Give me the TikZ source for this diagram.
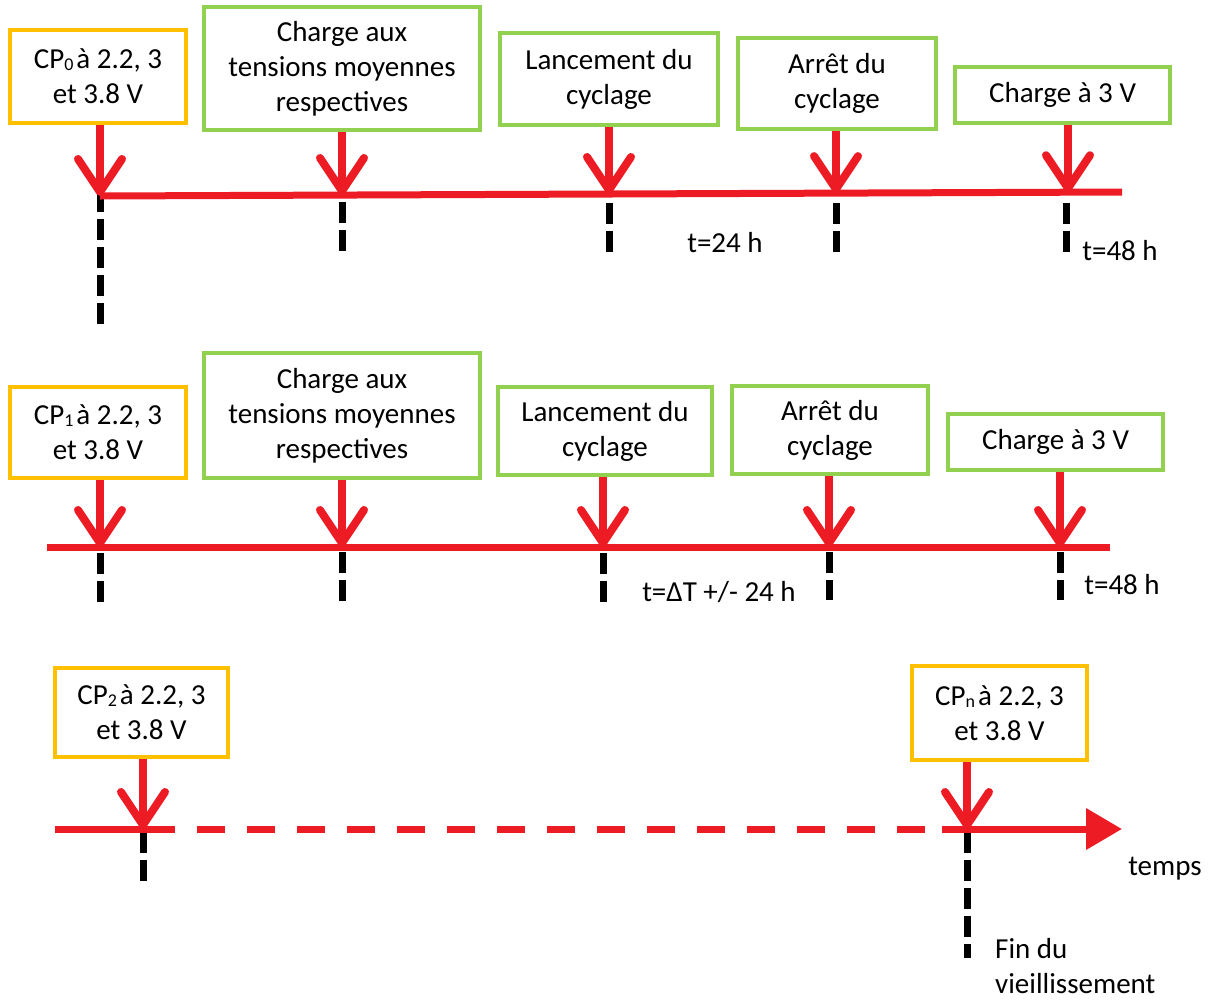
\documentclass[tikz,border=0pt]{standalone}
\usepackage{fontspec}
\setmainfont{Carlito}
\usetikzlibrary{arrows.meta}
\definecolor{cpred}{HTML}{ED1C24}
\definecolor{cporange}{HTML}{FFC000}
\definecolor{cpgreen}{HTML}{92D050}
\newcommand\cpsub[1]{\raisebox{-0.15ex}{\fontsize{18}{18}\selectfont #1}\kern3pt}
\begin{document}
\begin{tikzpicture}[x=1pt,y=-1pt,
  txt/.style={font=\fontsize{29}{35}\selectfont, inner sep=0pt, text=black},
  box/.style={txt, line width=4.5pt, align=center, fill=white},
  obox/.style={box, draw=cporange},
  gbox/.style={box, draw=cpgreen},
  tl/.style={draw=cpred, line width=7pt},
  drop/.style={draw=cpred, line width=8pt, -{Straight Barb[length=33pt,width=44pt,round]}},
  tick/.style={draw=black, line width=7pt, dash pattern=on 21pt off 7pt}]
\useasboundingbox (0,0) rectangle (1214,1002);

% ---------- Row 1 ----------
\node[obox, minimum width=176pt, minimum height=93pt] (a0) at (98,76.5) {CP\cpsub{0}à 2.2, 3\\et 3.8 V};
\node[gbox, minimum width=276pt, minimum height=123pt] (a1) at (342,68.5) {Charge aux\\tensions moyennes\\respectives};
\node[gbox, minimum width=218pt, minimum height=92pt] (a2) at (609,79) {Lancement du\\cyclage};
\node[gbox, minimum width=198pt, minimum height=91pt] (a3) at (837,83.5) {Arrêt du\\cyclage};
\node[gbox, minimum width=215pt, minimum height=56pt] (a4) at (1062.5,95) {Charge à 3 V};

\coordinate (p10) at (100,196);
\coordinate (p11) at (342,195);
\coordinate (p12) at (609,194);
\coordinate (p13) at (836,193.1);
\coordinate (p14) at (1068,192.2);
\coordinate (e1) at (1122,192);

\draw[tick] (100,191) -- (100,325);
\draw[tick] (342,202) -- (342,255);
\draw[tick] (609,203) -- (609,252);
\draw[tick] (836,203) -- (836,252);
\draw[tick] (1066,203) -- (1066,252);

\draw[tl] (p10) -- (e1);
\draw[drop] (a0.south -| p10) -- (p10);
\draw[drop] (a1.south -| p11) -- (p11);
\draw[drop] (a2.south -| p12) -- (p12);
\draw[drop] (a3.south -| p13) -- (p13);
\draw[drop] (a4.south -| p14) -- (p14);

\node[txt] (l1) at (725,243) {t=24 h};
\node[txt] (l2) at (1120,251) {t=48 h};

% ---------- Row 2 ----------
\node[obox, minimum width=176pt, minimum height=91pt] (b0) at (98,432.5) {CP\cpsub{1}à 2.2, 3\\et 3.8 V};
\node[gbox, minimum width=276pt, minimum height=125pt] (b1) at (342,415.5) {Charge aux\\tensions moyennes\\respectives};
\node[gbox, minimum width=214pt, minimum height=88pt] (b2) at (605,431) {Lancement du\\cyclage};
\node[gbox, minimum width=196pt, minimum height=88pt] (b3) at (830,430) {Arrêt du\\cyclage};
\node[gbox, minimum width=215pt, minimum height=56pt] (b4) at (1055.5,442) {Charge à 3 V};

\coordinate (s2) at (47,547);
\coordinate (p20) at (100,547);
\coordinate (p21) at (342,547);
\coordinate (p22) at (603,547);
\coordinate (p23) at (829,547);
\coordinate (p24) at (1060,547);
\coordinate (e2) at (1110,547);

\draw[tick] (100,553) -- (100,603);
\draw[tick] (342,552) -- (342,603);
\draw[tick] (603,553) -- (603,606);
\draw[tick] (829,552) -- (829,600);
\draw[tick] (1060,552) -- (1060,600);

\draw[tl] (s2) -- (e2);
\draw[drop] (b0.south -| p20) -- (p20);
\draw[drop] (b1.south -| p21) -- (p21);
\draw[drop] (b2.south -| p22) -- (p22);
\draw[drop] (b3.south -| p23) -- (p23);
\draw[drop] (b4.south -| p24) -- (p24);

\node[txt] (l3) at (719,592) {t=ΔT +/- 24 h};
\node[txt] (l4) at (1122,585) {t=48 h};

% ---------- Row 3 ----------
\node[obox, minimum width=173pt, minimum height=89pt] (c0) at (141.5,712.5) {CP\cpsub{2}à 2.2, 3\\et 3.8 V};
\node[obox, minimum width=175pt, minimum height=94pt] (cn) at (999.5,713) {CP\cpsub{n}à 2.2, 3\\et 3.8 V};

\coordinate (s3) at (55,829);
\coordinate (p30) at (143,829);
\coordinate (d1) at (175,829);
\coordinate (d2) at (197,829);
\coordinate (d3) at (925,829);
\coordinate (d4) at (942,829);
\coordinate (p3n) at (967,829);
\coordinate (e3) at (1122,829);

\draw[tick] (143,832) -- (143,885);
\draw[tick] (967,832) -- (967,958);

\draw[tl] (s3) -- (d1);
\draw[tl, dash pattern=on 28pt off 22pt] (d2) -- (d3);
\draw[tl, -{Triangle[length=36pt,width=40pt]}] (d4) -- (e3);
\draw[drop] (c0.south -| p30) -- (p30);
\draw[drop] (cn.south -| p3n) -- (p3n);

\node[txt] (l5) at (1165,869) {temps};
\node[txt, anchor=west, align=left] (l6) at (995,966) {Fin du\\vieillissement};
\end{tikzpicture}
\end{document}
